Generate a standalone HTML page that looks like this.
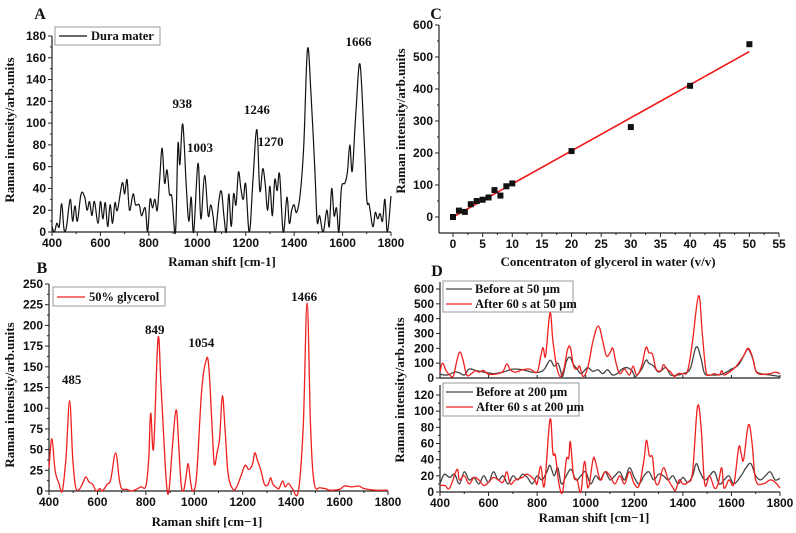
<!DOCTYPE html>
<html><head><meta charset="utf-8">
<style>
html,body{margin:0;padding:0;background:#fff;}
svg{display:block;}
.tk{font-family:"Liberation Sans",sans-serif;font-weight:bold;font-size:12px;fill:#111;}
.ttl{font-family:"Liberation Serif",serif;font-weight:bold;font-size:13px;fill:#111;}
.ann{font-family:"Liberation Serif",serif;font-weight:bold;font-size:13px;fill:#111;}
.lg{font-family:"Liberation Serif",serif;font-weight:bold;font-size:12.5px;fill:#111;}
.let{font-family:"Liberation Serif",serif;font-weight:bold;font-size:16px;fill:#111;}
</style></head>
<body>
<svg id="fig" width="796" height="533" viewBox="0 0 796 533" xmlns="http://www.w3.org/2000/svg"></svg>
<script>
// Panel A: dura mater spectrum
const aShift=[400,410,420,430,440,450,460,475,485,495,505,520,535,545,555,565,575,590,600,610,620,630,640,650,660,670,690,700,710,720,735,745,760,770,785,795,805,815,825,835,845,855,865,875,885,895,910,920,928,940,955,965,975,985,1003,1015,1030,1045,1055,1065,1075,1090,1100,1110,1120,1130,1140,1150,1160,1170,1180,1190,1200,1215,1230,1246,1258,1270,1280,1290,1300,1310,1320,1330,1340,1355,1370,1380,1390,1400,1410,1425,1440,1455,1470,1485,1495,1505,1520,1535,1545,1555,1565,1575,1585,1595,1610,1620,1630,1640,1655,1672,1690,1700,1710,1725,1735,1745,1755,1765,1775,1785,1800];
const aInt=[5,0,8,5,26,2,5,30,10,24,10,35,32,20,28,15,28,8,28,12,27,5,25,8,27,20,45,35,48,20,35,25,25,15,22,0,30,22,30,20,50,77,45,57,35,32,0,80,62,99,40,10,32,0,63,12,52,15,25,15,0,30,37,15,0,35,5,35,25,55,40,30,44,0,48,94,38,58,45,20,42,15,48,38,53,0,32,8,20,25,18,35,80,168,125,60,10,15,0,20,5,40,15,22,0,40,45,55,80,56,110,154,80,30,25,5,18,12,17,10,30,0,33];
const aYTicks=[0,20,40,60,80,100,120,140,160,180];
const shiftTicks=[400,600,800,1000,1200,1400,1600,1800];
const aPeakLabels=["938","1003","1246","1270","1666"];
// Panel B: 50% glycerol
const bShift=[400,412,425,440,455,470,485,498,510,525,540,552,565,580,595,610,620,640,655,675,690,700,720,740,760,780,800,812,820,832,850,862,872,885,895,910,925,935,945,955,965,975,985,995,1010,1030,1048,1060,1075,1083,1095,1105,1116,1128,1140,1160,1175,1195,1210,1225,1240,1250,1262,1275,1290,1305,1315,1325,1340,1350,1365,1375,1390,1405,1430,1450,1466,1480,1495,1520,1540,1560,1600,1620,1650,1680,1700,1750,1800];
const bInt=[28,63,25,10,0,40,109,40,5,2,10,17,11,8,0,3,0,8,14,46,15,3,2,0,2,5,6,40,94,52,184,130,75,10,0,55,98,60,10,0,15,33,10,0,20,120,157,150,70,32,48,65,115,70,20,2,5,20,31,26,32,46,36,25,8,8,16,8,4,3,12,5,9,3,0,80,227,80,10,4,3,1,2,6,5,6,3,1,1];
const bYTicks=[0,25,50,75,100,125,150,175,200,225,250];
const bPeakLabels=["485","849","1054","1466"];
// Panel C: concentration calibration
const cConc=[0,1,2,3,4,5,6,7,8,9,10,20,30,40,50];
const cInt=[0,20,16,40,50,54,61,84,67,96,105,206,281,410,540];
const cFit=[0,517];
const cXTicks=[0,5,10,15,20,25,30,35,40,45,50,55];
const cYTicks=[0,100,200,300,400,500,600];
// Panel D top (50 µm)
const dTopRedX=[400,410,425,440,455,470,482,495,510,530,545,560,580,600,640,660,675,690,710,740,770,800,815,825,835,853,865,880,895,910,925,937,950,965,975,990,1010,1030,1052,1070,1085,1100,1112,1125,1140,1160,1180,1195,1210,1230,1248,1260,1275,1290,1310,1320,1335,1350,1365,1380,1400,1420,1440,1465,1480,1495,1510,1530,1550,1560,1570,1600,1620,1650,1668,1685,1700,1720,1760,1780,1800];
const dTopRedY=[40,100,50,20,15,120,175,120,20,30,50,40,50,25,30,45,95,55,40,55,60,40,150,205,150,440,250,80,10,60,190,205,80,60,80,10,80,250,350,250,150,170,200,100,30,60,20,80,20,80,205,170,160,60,50,90,60,40,10,30,30,50,250,555,300,50,20,30,20,50,20,50,80,150,200,150,50,25,30,40,30];
const dTopBlkX=[400,430,460,480,500,520,550,580,620,660,700,740,780,810,830,853,870,885,895,905,920,935,950,965,980,1000,1010,1030,1050,1070,1090,1110,1130,1150,1170,1190,1205,1230,1248,1260,1280,1300,1330,1350,1380,1400,1430,1455,1475,1490,1520,1560,1600,1630,1660,1670,1690,1700,1720,1760,1800];
const dTopBlkY=[25,20,40,35,20,60,50,40,30,40,60,55,40,40,60,120,80,100,60,10,110,140,90,60,30,60,70,45,55,30,55,20,30,60,70,50,10,60,120,100,80,40,70,20,20,30,60,210,130,30,20,25,60,90,180,195,120,50,30,20,10];
const dTopYTicks=[0,100,200,300,400,500,600];
// Panel D bottom (200 µm)
const dBotRedX=[400,420,440,470,480,500,520,540,560,580,600,620,640,660,675,690,710,740,760,790,800,815,830,853,865,875,890,905,920,930,937,950,965,980,995,1010,1030,1040,1060,1080,1100,1120,1140,1160,1180,1200,1220,1240,1250,1262,1275,1285,1300,1320,1340,1360,1370,1385,1400,1420,1440,1460,1475,1490,1510,1530,1545,1560,1570,1590,1610,1630,1640,1650,1670,1685,1700,1730,1760,1780,1800];
const dBotRedY=[8,8,5,28,15,20,10,18,15,8,12,18,15,12,25,10,15,18,22,15,10,32,8,90,48,45,10,0,40,42,62,20,15,0,38,5,40,38,15,25,20,10,20,10,25,10,8,40,64,45,43,15,10,30,15,5,2,15,10,12,25,105,80,10,20,5,10,30,5,15,10,55,48,40,83,60,15,10,15,12,5];
const dBotBlkX=[400,410,420,440,460,480,500,520,540,560,580,600,620,640,660,680,700,720,740,760,780,800,820,840,853,870,885,900,920,940,960,980,1000,1020,1040,1060,1080,1100,1120,1140,1160,1180,1200,1220,1240,1260,1280,1300,1320,1340,1360,1380,1400,1420,1440,1455,1470,1490,1510,1530,1550,1570,1590,1610,1640,1660,1680,1700,1720,1740,1760,1780,1800];
const dBotBlkY=[10,18,22,18,22,10,25,15,18,10,20,12,25,15,20,10,20,15,22,18,10,20,15,25,33,20,30,10,20,28,15,20,25,10,20,15,25,15,20,25,15,30,18,10,20,25,15,22,20,15,20,10,18,12,20,35,25,15,20,25,10,15,20,10,20,30,35,20,15,20,25,15,17];
const dBotYTicks=[0,20,40,60,80,100,120];

const NS="http://www.w3.org/2000/svg";
const svg=document.getElementById('fig');
function el(tag,attrs,parent){const e=document.createElementNS(NS,tag);for(const k in attrs)e.setAttribute(k,attrs[k]);(parent||svg).appendChild(e);return e;}
function txt(s,x,y,cls,anchor,parent){const t=el('text',{x:x,y:y,class:cls,'text-anchor':anchor||'middle'},parent);t.textContent=s;return t;}
function lin(d0,d1,r0,r1){return v=>r0+(v-d0)*(r1-r0)/(d1-d0);}

function axes(g,sx,sy,x0,x1,y0,y1,xt,yt,ymin,showX,minorY,minorX){
  el('line',{x1:sx(x0),y1:sy(ymin),x2:sx(x1),y2:sy(ymin),stroke:'#222','stroke-width':1.2},g);
  el('line',{x1:sx(x0),y1:sy(ymin),x2:sx(x0),y2:sy(y1),stroke:'#222','stroke-width':1.2},g);
  if(showX){xt.forEach(v=>{
    el('line',{x1:sx(v),y1:sy(ymin),x2:sx(v),y2:sy(ymin)+4,stroke:'#222'},g);
    txt(String(v),sx(v),sy(ymin)+15,'tk','middle',g);
  });
  if(minorX){for(let i=0;i<xt.length-1;i++){const m=(xt[i]+xt[i+1])/2;el('line',{x1:sx(m),y1:sy(ymin),x2:sx(m),y2:sy(ymin)+2,stroke:'#222'},g);}}}
  yt.forEach(v=>{
    el('line',{x1:sx(x0),y1:sy(v),x2:sx(x0)-4,y2:sy(v),stroke:'#222'},g);
    txt(String(v),sx(x0)-6,sy(v)+4,'tk','end',g);
  });
  if(minorY){for(let i=0;i<yt.length-1;i++){const m=(yt[i]+yt[i+1])/2;el('line',{x1:sx(x0),y1:sy(m),x2:sx(x0)-2,y2:sy(m),stroke:'#222'},g);}}
}
function path(g,xs,ys,sx,sy,color,w){
  const P=xs.map((x,i)=>[sx(x),sy(ys[i])]);
  let d='M'+P[0][0].toFixed(1)+','+P[0][1].toFixed(1);
  for(let i=0;i<P.length-1;i++){
    const p0=P[i-1]||P[i],p1=P[i],p2=P[i+1],p3=P[i+2]||P[i+1];
    const t=0.18;
    const c1=[p1[0]+(p2[0]-p0[0])*t,p1[1]+(p2[1]-p0[1])*t];
    const c2=[p2[0]-(p3[0]-p1[0])*t,p2[1]-(p3[1]-p1[1])*t];
    d+='C'+c1[0].toFixed(1)+','+c1[1].toFixed(1)+' '+c2[0].toFixed(1)+','+c2[1].toFixed(1)+' '+p2[0].toFixed(1)+','+p2[1].toFixed(1);
  }
  return el('path',{d:d,fill:'none',stroke:color,'stroke-width':w||1.2,'stroke-linejoin':'round'},g);
}
function ytitle(g,s,x,y){const t=txt(s,x,y,'ttl','middle',g);t.setAttribute('transform','rotate(-90 '+x+' '+y+')');return t;}

// ===== Panel A =====
{
const g=el('g',{});


const sx=lin(400,1800,52,391), sy=lin(0,180,232,36);
axes(g,sx,sy,400,1800,0,180,shiftTicks,aYTicks,0,true,true,true);
const p=path(g,aShift,aInt,sx,sy,'#111',1.2);


const pos=[[938,108],[1003,152],[1246,114],[1270,146],[1666,46]];
aPeakLabels.forEach((s,i)=>{const t=txt(s,sx(Number(s))+ (i==3?8:i==1?2:0),pos[i][1],'ann','middle',g);});
txt('A',40,19,'let','middle',g);
const xt=txt('Raman shift [cm-1]',222,266,'ttl','middle',g);
const yt=ytitle(g,'Raman intensity/arb.units',14,130);
const lg=el('g',{},g);
el('rect',{x:55,y:27,width:105,height:18,fill:'#fff',stroke:'#999'},lg);
el('line',{x1:59,y1:36,x2:87,y2:36,stroke:'#111','stroke-width':1.3},lg);
txt('Dura mater',91,40,'lg','start',lg);
}
// ===== Panel B =====
{
const g=el('g',{});


const sx=lin(400,1800,49,388), sy=lin(0,250,491,284);
axes(g,sx,sy,400,1800,0,250,shiftTicks,bYTicks,0,true,true,true);
const p=path(g,bShift,bInt,sx,sy,'#f02020',1.3);


const ys=[384,334,347,301];
bPeakLabels.forEach((s,i)=>{const t=txt(s,sx(Number(s))+(i==2?-6:i==0?2:-3),ys[i],'ann','middle',g);});
txt('B',42,273,'let','middle',g);
const xt=txt('Raman shift [cm\u22121]',207,526,'ttl','middle',g);
const yt=ytitle(g,'Raman intensity/arb.units',14,395);
const lg=el('g',{},g);
el('rect',{x:53,y:287,width:112,height:19,fill:'#fff',stroke:'#999'},lg);
el('line',{x1:57,y1:297,x2:85,y2:297,stroke:'#f02020','stroke-width':1.3},lg);
txt('50% glycerol',89,301,'lg','start',lg);
}
// ===== Panel C =====
{
const g=el('g',{});


const sx=lin(0,55,453,779), sy=lin(0,600,217,25);
el('line',{x1:439,y1:sy(-50),x2:sx(55),y2:sy(-50),stroke:'#222','stroke-width':1.2},g);
el('line',{x1:439,y1:sy(-50),x2:439,y2:sy(600),stroke:'#222','stroke-width':1.2},g);
cXTicks.forEach(v=>{el('line',{x1:sx(v),y1:sy(-50),x2:sx(v),y2:sy(-50)+4,stroke:'#222'},g);txt(String(v),sx(v),sy(-50)+15,'tk','middle',g);});
for(let i=0;i<cXTicks.length-1;i++){const m=(cXTicks[i]+cXTicks[i+1])/2;el('line',{x1:sx(m),y1:sy(-50),x2:sx(m),y2:sy(-50)+2,stroke:'#222'},g);}
cYTicks.forEach(v=>{el('line',{x1:439,y1:sy(v),x2:435,y2:sy(v),stroke:'#222'},g);txt(String(v),433,sy(v)+4,'tk','end',g);});
cYTicks.forEach(v=>{if(v<600){el('line',{x1:439,y1:sy(v+50),x2:437,y2:sy(v+50),stroke:'#222'},g);}});
const fit=el('line',{x1:sx(0),y1:sy(cFit[0]),x2:sx(50),y2:sy(cFit[1]),stroke:'#f01818','stroke-width':1.6},g);


cConc.forEach((c,i)=>{const r=el('rect',{x:sx(c)-3,y:sy(cInt[i])-3,width:6,height:6,fill:'#111'},g);

});
txt('C',436,19,'let','middle',g);
const xt=txt('Concentraton of glycerol in water (v/v)',608,266,'ttl','middle',g);
const yt=ytitle(g,'Raman intensity/arb.units',405,121);
}
// ===== Panel D =====
{
const g=el('g',{});


const X0=440;
const sx=lin(400,1800,X0,780);
const syT=lin(0,600,378,289), syB=lin(0,120,492,395);
el('line',{x1:X0,y1:378,x2:780,y2:378,stroke:'#222','stroke-width':1.2},g);
el('line',{x1:X0,y1:378,x2:X0,y2:282,stroke:'#222','stroke-width':1.2},g);
dTopYTicks.forEach(v=>{el('line',{x1:X0,y1:syT(v),x2:X0-4,y2:syT(v),stroke:'#222'},g);txt(String(v),X0-6,syT(v)+4,'tk','end',g);});
shiftTicks.forEach(v=>{el('line',{x1:sx(v),y1:378,x2:sx(v),y2:375,stroke:'#222'},g);});
const pb=path(g,dTopBlkX,dTopBlkY,sx,syT,'#444',1.3);
const pr=path(g,dTopRedX,dTopRedY,sx,syT,'#f02020',1.3);
axes(g,sx,syB,400,1800,0,120,shiftTicks,dBotYTicks,0,true,true,true);
el('line',{x1:X0,y1:395,x2:X0,y2:385,stroke:'#222','stroke-width':1.2},g);
const pb2=path(g,dBotBlkX,dBotBlkY,sx,syB,'#444',1.3);
const pr2=path(g,dBotRedX,dBotRedY,sx,syB,'#f02020',1.3);
txt('D',437,276,'let','middle',g);
const xt=txt('Raman shift [cm\u22121]',594,522,'ttl','middle',g);
const yt=ytitle(g,'Raman intensity/arb.units',404,390);
const l1=el('g',{},g);
el('rect',{x:443,y:281,width:130,height:31,fill:'#fff',stroke:'#999'},l1);
el('line',{x1:446,y1:289,x2:472,y2:289,stroke:'#444','stroke-width':1.3},l1);
txt('Before at 50 \u00b5m',475,293,'lg','start',l1);
el('line',{x1:446,y1:304,x2:472,y2:304,stroke:'#f02020','stroke-width':1.3},l1);
txt('After 60 s at 50 \u00b5m',475,308,'lg','start',l1);
const l2=el('g',{},g);
el('rect',{x:443,y:383,width:136,height:33,fill:'#fff',stroke:'#999'},l2);
el('line',{x1:446,y1:392,x2:473,y2:392,stroke:'#444','stroke-width':1.3},l2);
txt('Before at 200 \u00b5m',476,396,'lg','start',l2);
el('line',{x1:446,y1:407,x2:473,y2:407,stroke:'#f02020','stroke-width':1.3},l2);
txt('After 60 s at 200 \u00b5m',476,411,'lg','start',l2);
}
</script>
</body></html>
